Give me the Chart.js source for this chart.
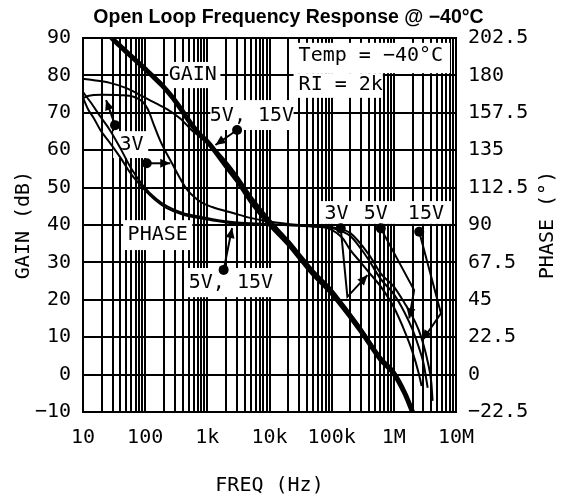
<!DOCTYPE html>
<html><head><meta charset="utf-8">
<script src="https://cdn.jsdelivr.net/npm/chart.js@4.4.0/dist/chart.umd.min.js"></script>
<style>html,body{margin:0;padding:0;background:#fff;}canvas{display:block}</style>
</head><body>
<canvas id="c" width="568" height="500"></canvas>
<script>
// ---------- data ----------
const decades = [10, 100, 1000, 10000, 100000, 1000000, 10000000];
const decadeLabels = ['10', '100', '1k', '10k', '100k', '1M', '10M'];
const gainTicks = [-10, 0, 10, 20, 30, 40, 50, 60, 70, 80, 90];
const phaseTicks = [-22.5, 0, 22.5, 45, 67.5, 90, 112.5, 135, 157.5, 180, 202.5];

// GAIN 5V, 15V (thick)
const gain515Freq = [25, 29, 40, 57, 80, 106, 140, 186, 270, 366, 550, 772, 1000, 2000, 3000, 5000, 10000, 20000, 30000, 50000, 100000, 200000, 300000, 617000, 1000000, 1500000, 2000000];
const gain515 = [91.5, 90, 87.8, 85.4, 83.2, 81.3, 79.4, 77.4, 74.3, 71.3, 67, 64, 62.3, 55.8, 52, 46.5, 40.3, 35, 31.5, 27, 21.8, 15.5, 11.5, 4, 0.3, -5, -10];
// GAIN 3V (thin)
const gain3Freq = [10, 15, 27, 50, 93, 150, 224, 366, 593, 800, 1040, 2000, 3000, 5000, 10000, 20000, 30000, 50000, 100000, 200000, 300000, 617000, 1000000, 1500000, 2000000, 2150000];
const gain3 = [79.1, 78.7, 78, 76.6, 74.3, 72.5, 71, 68.5, 65, 63.4, 62, 57, 53.2, 47.8, 41.5, 36, 32.5, 28, 22.8, 16.3, 12.3, 4.7, 1, -4.5, -9.3, -11];
// PHASE 3V
const phase3Freq = [10, 12, 20, 40, 65, 90, 110, 140, 175, 270, 470, 772, 1200, 2600, 4900, 10400, 30000, 60000, 100000, 150000, 200000, 300000, 400000, 617000, 1000000, 1500000, 2000000, 2500000, 2800000];
const phase3 = [166.3, 167.6, 168.3, 168.1, 167.2, 164.3, 159.8, 149.6, 140.6, 127.1, 111.4, 104, 100.8, 97.2, 94.3, 92, 90, 89.1, 87.1, 82.1, 74.9, 67.1, 61.4, 52.9, 40.5, 25.9, 13.5, 1.1, -6.8];
// PHASE 5V
const phase5Freq = [10, 13, 19, 27, 40, 60, 93, 150, 223, 400, 772, 1500, 2500, 5000, 10000, 30000, 60000, 100000, 200000, 300000, 400000, 617000, 1000000, 1500000, 2000000, 2500000, 3000000, 3500000];
const phase5 = [169.9, 164.3, 155.3, 147.2, 136.1, 123.8, 113.6, 105.8, 101.3, 97.2, 95, 92.9, 91.8, 91.1, 90.5, 89.6, 88.9, 88.2, 83.3, 75.4, 68.6, 57.4, 48.4, 37.1, 27, 16.9, 6.8, -7.9];
// PHASE 15V
const phase15Freq = [10, 12, 15, 19, 27, 40, 60, 93, 150, 223, 400, 772, 1500, 2500, 5000, 10000, 30000, 60000, 100000, 200000, 400000, 617000, 1000000, 1500000, 2000000, 2500000, 3000000, 3500000, 4000000, 4200000];
const phase15 = [166.5, 159.8, 154.1, 147.2, 139.5, 130.5, 120.4, 112.1, 104.6, 100.1, 96.3, 94.1, 92.3, 91.1, 90.7, 90.2, 89.8, 89.1, 88.7, 85.1, 72, 60.8, 52.9, 42.8, 34.9, 27, 18, 7.9, -4.5, -15.8];

// ---------- helpers ----------
const gridFreqs = [];
decades.forEach((d, i) => {
  const mults = i < decades.length - 1 ? [1,2,3,4,5,6,7,8,9] : [1];
  mults.forEach(m => gridFreqs.push(m * d));
});
const fmt = v => (v < 0 ? '\u2212' + Math.abs(v) : String(v));
const pts = (xs, ys) => xs.map((x, i) => ({x, y: ys[i]}));
const FONT = 'DejaVu Sans Mono';

// label masks (white boxes), in data units: [f1, g1, f2, g2]
const masks = [
  [235, 83.6, 1622, 76.6],
  [1117, 73.4, 24400, 65.4],
  [30.5, 65.1, 112, 57.9],
  [44.2, 41.3, 573, 33.3],
  [476, 28.5, 11200, 20.7],
  [66500, 46.4, 8300000, 40.3],
  [24400, 88.7, 8000000, 80.6],
  [24400, 80.6, 665000, 74.0]
];
// text labels: [text, freq, gain, align]
const labels = [
  ['GAIN', 583, 80.2, 'center'],
  ['5V, 15V', 5220, 69.3, 'center'],
  ['3V', 60.5, 61.4, 'center'],
  ['PHASE', 159, 37.3, 'center'],
  ['5V, 15V', 2390, 24.5, 'center'],
  ['3V', 120000, 43.1, 'center'],
  ['5V', 513000, 43.1, 'center'],
  ['15V', 3280000, 42.9, 'center'],
  ['Temp = \u221240\u00B0C', 29400, 85.2, 'left'],
  ['RI = 2k', 29400, 77.6, 'left']
];
// pointer arrows: dot first, arrow head at last point
const arrows = [
  [[32.8, 66.7], [23.5, 73.4]],
  [[106, 56.5], [253, 56.5]],
  [[3010, 65.4], [1350, 61.4]],
  [[1830, 28.0], [2500, 39.2]],
  [[140000, 39.1], [179000, 20.8], [377000, 26.6]],
  [[617000, 39.1], [2120000, 22.6], [1770000, 15.05]],
  [[2560000, 38.2], [5730000, 16.4], [2900000, 9.25]]
];

const annot = {
  id: 'annot',
  beforeDatasetsDraw(chart) {
    const {ctx, scales: {x, y}} = chart;
    ctx.save();
    ctx.fillStyle = '#fff';
    masks.forEach(([f1, g1, f2, g2]) => {
      const X1 = x.getPixelForValue(f1), X2 = x.getPixelForValue(f2);
      const Y1 = y.getPixelForValue(g1), Y2 = y.getPixelForValue(g2);
      ctx.fillRect(X1, Y1, X2 - X1, Y2 - Y1);
    });
    ctx.restore();
  },
  afterDatasetsDraw(chart) {
    const {ctx, scales: {x, y}, chartArea} = chart;
    ctx.save();
    ctx.fillStyle = '#000';
    ctx.strokeStyle = '#000';
    ctx.font = '20px "' + FONT + '"';
    ctx.textBaseline = 'middle';
    labels.forEach(([t, f, g, al]) => {
      ctx.textAlign = al;
      ctx.fillText(t, x.getPixelForValue(f), y.getPixelForValue(g));
    });
    ctx.lineWidth = 2;
    arrows.forEach(a => {
      const p = a.map(([f, g]) => [x.getPixelForValue(f), y.getPixelForValue(g)]);
      ctx.beginPath();
      ctx.moveTo(p[0][0], p[0][1]);
      for (let i = 1; i < p.length; i++) ctx.lineTo(p[i][0], p[i][1]);
      ctx.stroke();
      const [x1, y1] = p[p.length - 2], [x2, y2] = p[p.length - 1];
      const ang = Math.atan2(y2 - y1, x2 - x1), L = 10, W = 4.5;
      const c = Math.cos(ang), s = Math.sin(ang);
      ctx.beginPath();
      ctx.moveTo(x2, y2);
      ctx.lineTo(x2 - L * c + W * s, y2 - L * s - W * c);
      ctx.lineTo(x2 - L * c - W * s, y2 - L * s + W * c);
      ctx.closePath();
      ctx.fill();
      ctx.beginPath();
      ctx.arc(p[0][0], p[0][1], 5, 0, Math.PI * 2);
      ctx.fill();
    });
    // right axis title, reading bottom-to-top
    ctx.translate(548, (chartArea.top + chartArea.bottom) / 2);
    ctx.rotate(-Math.PI / 2);
    ctx.textAlign = 'center';
    ctx.fillText('PHASE (\u00B0)', 0, 0);
    ctx.restore();
  }
};

Chart.defaults.color = '#000';
const tickFont = {family: FONT, size: 20};
const phaseToGain = v => v / 2.25;

new Chart(document.getElementById('c'), {
  type: 'line',
  data: {
    datasets: [
      {data: pts(gain3Freq, gain3), borderWidth: 2},
      {data: pts(phase3Freq, phase3.map(phaseToGain)), borderWidth: 2},
      {data: pts(phase5Freq, phase5.map(phaseToGain)), borderWidth: 2},
      {data: pts(phase15Freq, phase15.map(phaseToGain)), borderWidth: 2},
      {data: pts(gain515Freq, gain515), borderWidth: 5}
    ].map(d => Object.assign(d, {borderColor: '#000', pointRadius: 0, fill: false, cubicInterpolationMode: 'monotone', clip: 0}))
  },
  options: {
    responsive: false,
    devicePixelRatio: 1,
    animation: false,
    layout: {padding: {left: 9, top: 0, right: 0, bottom: 0}},
    plugins: {
      legend: {display: false},
      tooltip: {enabled: false},
      title: {
        display: true,
        text: 'Open Loop Frequency Response @ \u221240\u00B0C',
        font: {family: 'Liberation Sans', size: 19.5, weight: 'bold'},
        color: '#000',
        padding: {top: 5.5, bottom: 9.1}
      }
    },
    scales: {
      x: {
        type: 'logarithmic', position: 'bottom', min: 10, max: 10000000,
        afterBuildTicks: s => { s.ticks = gridFreqs.map(v => ({value: v})); },
        afterFit: s => { s.height = 88; },
        ticks: {
          autoSkip: false, maxRotation: 0, padding: 13.5, font: tickFont, color: '#000',
          callback: v => {
            const i = decades.findIndex(d => Math.abs(d - v) / d < 1e-6);
            return i >= 0 ? decadeLabels[i] : '';
          }
        },
        grid: {color: '#000', lineWidth: 2, drawTicks: false},
        border: {color: '#000', width: 2},
        title: {display: true, text: 'FREQ (Hz)', font: tickFont, color: '#000', padding: {top: 0, bottom: 2}}
      },
      y: {
        type: 'linear', position: 'left', min: -10, max: 90,
        afterBuildTicks: s => { s.ticks = gainTicks.map(v => ({value: v})); },
        afterFit: s => { s.width = 74; },
        ticks: {padding: 12, font: tickFont, color: '#000', callback: v => fmt(v)},
        grid: {color: '#000', lineWidth: 2, drawTicks: false},
        border: {color: '#000', width: 2},
        title: {display: true, text: 'GAIN (dB)', font: tickFont, color: '#000', padding: {top: 2.5, bottom: 0}}
      },
      y2: {
        type: 'linear', position: 'right', min: -22.5, max: 202.5,
        afterBuildTicks: s => { s.ticks = phaseTicks.map(v => ({value: v})); },
        afterFit: s => { s.width = 112; },
        ticks: {padding: 12, font: tickFont, color: '#000', callback: v => fmt(v)},
        grid: {drawOnChartArea: false, drawTicks: false},
        border: {color: '#000', width: 2}
      }
    }
  },
  plugins: [annot]
});
</script>
</body></html>
